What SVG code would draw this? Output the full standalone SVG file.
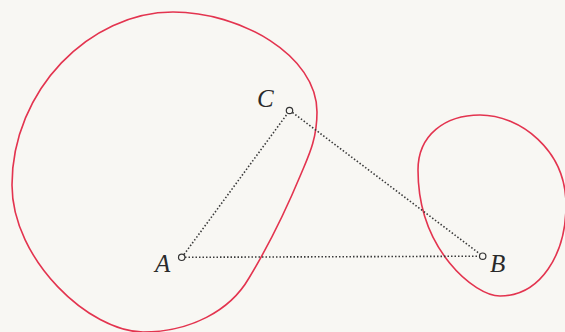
<svg xmlns="http://www.w3.org/2000/svg" width="565" height="332" viewBox="0 0 565 332">
  <style>
    .region { fill: none; stroke: #e3344f; stroke-width: 1.6; }
    .edge { fill: none; stroke: #3a3a3a; stroke-width: 1.6; stroke-dasharray: 1.5 2; }
    .pt { fill: #f8f7f3; stroke: #333333; stroke-width: 1.2; }
    .lbl { font-family: "Liberation Serif", "DejaVu Serif", serif; font-style: italic; font-size: 25px; fill: #2a2a2a; }
  </style>
  <rect x="0" y="0" width="565" height="332" fill="#f8f7f3"/>
  <g id="region-left">
    <path class="region" d="M173,12 C240,12 317,55 317,112 C317,140 308,157 301,174 C291,198 272,240 249,278 C230,311 190,332 143,332 C90,332 12,260 12,185 C12,90 90,12 173,12 Z"/>
  </g>
  <g id="region-right">
    <path class="region" d="M480,115 C520,115 566,150 566,205 C566,255 540,296 500,296 C475,296 418,250 418,170 C418,135 445,115 480,115 Z"/>
  </g>
  <g id="connectors">
    <line class="edge" x1="184" y1="254.5" x2="287.5" y2="113.5"/>
    <line class="edge" x1="292.5" y1="112.5" x2="480" y2="254"/>
    <line class="edge" x1="185" y1="257.3" x2="479.5" y2="256.2"/>
  </g>
  <g id="node-A">
    <circle class="pt" cx="181.7" cy="257.3" r="3.2"/>
    <text class="lbl" x="155" y="272">A</text>
  </g>
  <g id="node-B">
    <circle class="pt" cx="482.7" cy="256.2" r="3.2"/>
    <text class="lbl" x="490" y="272">B</text>
  </g>
  <g id="node-C">
    <circle class="pt" cx="289.5" cy="110.5" r="3.2"/>
    <text class="lbl" x="257" y="107">C</text>
  </g>
</svg>
